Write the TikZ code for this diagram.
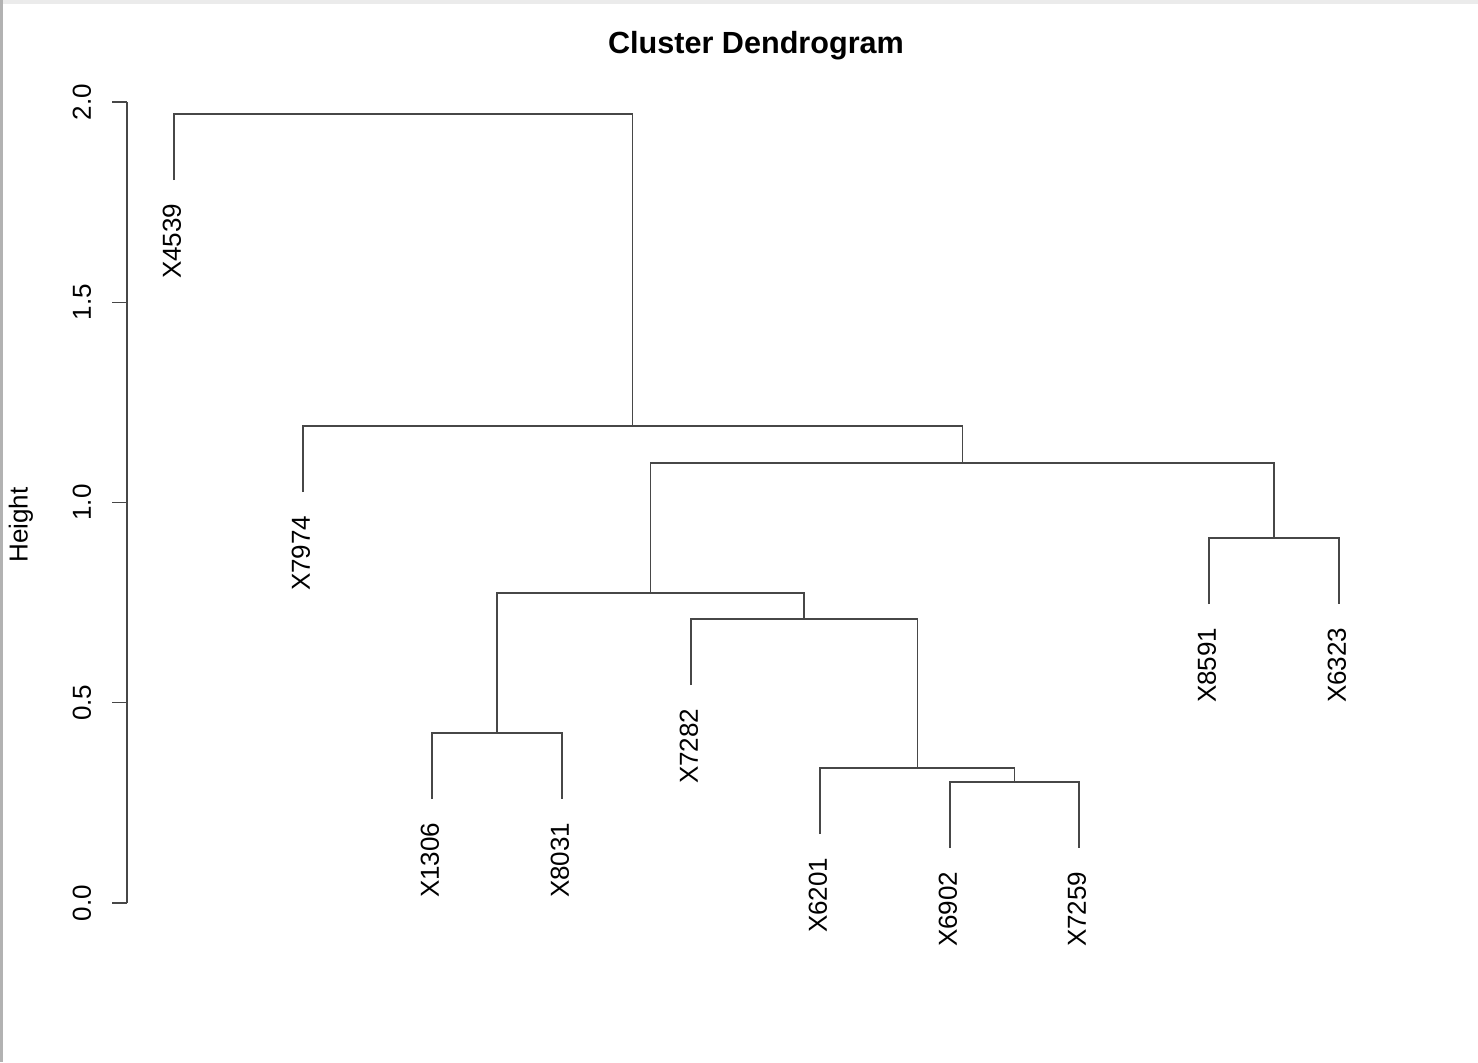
\documentclass[tikz,border=0pt]{standalone}
\usepackage{fontspec}
\setmainfont{Liberation Sans}
\usetikzlibrary{calc}

\begin{document}
\begin{tikzpicture}[x=0.01cm,y=-0.01cm,
    branch/.style={black!72,line width=0.4pt},
    leaflbl/.style={rotate=90,anchor=east,inner sep=0pt,font=\fontsize{7.4}{8}\selectfont},
    ticklbl/.style={rotate=90,inner sep=0pt,font=\fontsize{7.4}{8}\selectfont}]
    \useasboundingbox (0,0) rectangle (1478,1062);
    \fill[black!8] (0,0) rectangle (1478,4);
    \fill[black!30] (0,0) rectangle (3,1062);

    \node[font=\bfseries\fontsize{8.7}{10}\selectfont,anchor=base] (title) at (756,53) {Cluster Dendrogram};

    % height axis
    \coordinate (ybot) at (127,903);
    \coordinate (ytop) at (127,102);
    \draw[branch] (ybot) -- (ytop);
    \foreach \v/\t in {0/0.0,1/0.5,2/1.0,3/1.5,4/2.0}{
        \coordinate (tk\v) at (127,903-200.25*\v);
        \draw[branch] (tk\v) -- ++(-15,0);
        \node[ticklbl] (tl\v) at (82,903-200.25*\v) {\t};
    }
    \node[ticklbl] (ylab) at (21,525) {Height};

    % leaves
    \foreach \n/\x/\y in {4539/174/180,7974/303/492,1306/432/799,8031/562/799,7282/691/685,
        6201/820/834,6902/950/848,7259/1079/848,8591/1209/604,6323/1339/604}{
        \coordinate (l\n) at (\x,\y);
        \node[leaflbl] (t\n) at (\x-2,\y+23) {X\n};
    }

    % merges
    \coordinate (m1) at (1014.5,782);
    \coordinate (m2) at (917.2,768);
    \coordinate (m3) at (804.1,619);
    \coordinate (m4) at (497,733);
    \coordinate (m5) at (650.5,593);
    \coordinate (m6) at (1274,538);
    \coordinate (m7) at (962.3,463);
    \coordinate (m8) at (632.6,426);
    \coordinate (m9) at (403.3,114);

    \draw[branch] (l6902) |- (m1) -| (l7259);
    \draw[branch] (l6201) |- (m2) -| (m1);
    \draw[branch] (l7282) |- (m3) -| (m2);
    \draw[branch] (l1306) |- (m4) -| (l8031);
    \draw[branch] (m4) |- (m5) -| (m3);
    \draw[branch] (l8591) |- (m6) -| (l6323);
    \draw[branch] (m5) |- (m7) -| (m6);
    \draw[branch] (l7974) |- (m8) -| (m7);
    \draw[branch] (l4539) |- (m9) -| (m8);
\end{tikzpicture}
\end{document}
